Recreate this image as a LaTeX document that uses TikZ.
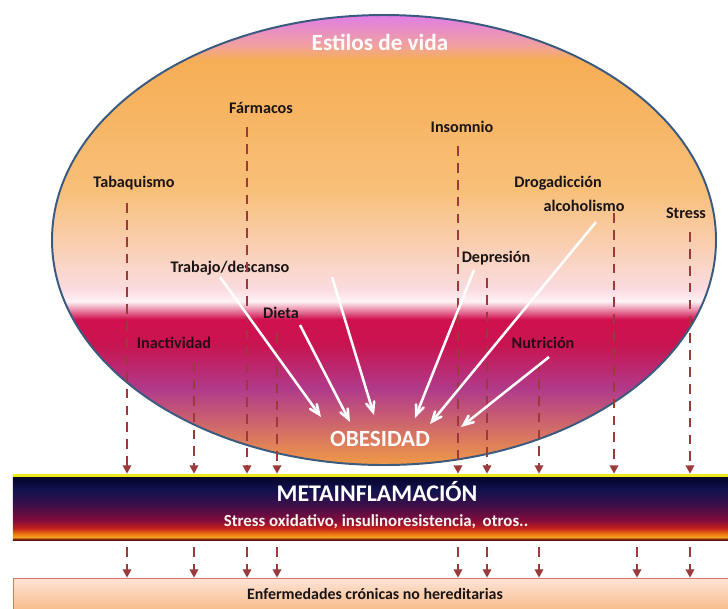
\documentclass[tikz,border=0pt]{standalone}
\usepackage{fontspec}
\setmainfont{Carlito}
\usetikzlibrary{arrows, arrows.meta, positioning}

\definecolor{dashred}{HTML}{9A3A3A}
\definecolor{labeltext}{HTML}{1A1414}
\definecolor{darklabel}{HTML}{2A0A18}
\definecolor{ellborder}{HTML}{3A5A80}
\definecolor{enftop}{HTML}{FDE4D8}
\definecolor{enfbot}{HTML}{F7B47A}
\definecolor{enfborder}{HTML}{E07060}
% ellipse colours, bottom to top
\definecolor{va}{HTML}{F09A48}
\definecolor{vb}{HTML}{B03A8A}
\definecolor{vc}{HTML}{C81450}
\definecolor{vd}{HTML}{D0104E}
\definecolor{ve}{HTML}{FFF2F5}
\definecolor{vf}{HTML}{FADCE0}
\definecolor{vg}{HTML}{F8BF78}
\definecolor{vh}{HTML}{F6AE55}
\definecolor{vi}{HTML}{F0A0A0}
\definecolor{vj}{HTML}{E07EE6}
% bar colours, bottom to top
\definecolor{ma}{HTML}{601010}
\definecolor{mb}{HTML}{F4A020}
\definecolor{mc}{HTML}{F07812}
\definecolor{md}{HTML}{C0201C}
\definecolor{me}{HTML}{820C3C}
\definecolor{mf}{HTML}{3D0F4A}
\definecolor{mg}{HTML}{121250}
\definecolor{mh}{HTML}{05052A}
\definecolor{mi}{HTML}{EEE81A}

\pgfdeclareverticalshading{vida}{100bp}{color(0bp)=(va); color(25bp)=(va);
  color(33.5bp)=(vb); color(38.41bp)=(vc); color(41.19bp)=(vd); color(43.18bp)=(ve);
  color(44.51bp)=(vf); color(55.6bp)=(vg); color(70.01bp)=(vh); color(71.67bp)=(vi);
  color(75bp)=(vj); color(100bp)=(vj)}
\pgfdeclareverticalshading{metashade}{100bp}{color(0bp)=(ma); color(25.38bp)=(ma);
  color(27.27bp)=(mb); color(29.55bp)=(mc); color(34.09bp)=(md); color(40.15bp)=(me);
  color(51.52bp)=(mf); color(62.88bp)=(mg); color(72.73bp)=(mh); color(73.48bp)=(mi);
  color(75bp)=(mi); color(100bp)=(mi)}

\begin{document}
\begin{tikzpicture}[x=0.025cm,y=-0.025cm,>={Triangle[width=6pt,length=6pt]},font=\bfseries\fontsize{11.5}{13}\selectfont]
	\tikzset{lbl/.style={text=labeltext, inner sep=1pt},
		dashline/.style={->, dashred, line width=1.6pt, dash pattern=on 7pt off 5pt},
		whitearrow/.style={-angle 45, white, line width=1.8pt},
		bar/.style={minimum width=18.2cm, inner sep=0pt}}
	\useasboundingbox (0,0) rectangle (728,608);
	\shadedraw[shading=vida, draw=ellborder, line width=1.4pt] (384,240) ellipse (332 and 225);

	\node[bar, shading=metashade, minimum height=1.65cm] (meta) at (377,507) {};
	\node[bar, top color=enftop, bottom color=enfbot, draw=enfborder, minimum height=0.95cm] (enf) at (377,597) {};

	\node[text=white!94!pink, font=\bfseries\fontsize{16.5}{18}\selectfont] (vida) at (380,42) {Estilos de vida};
	\node[text=white!94!pink, font=\bfseries\fontsize{16.5}{18}\selectfont] (obe) at (380,439) {OBESIDAD};
	\node[text=white, font=\bfseries\fontsize{17}{19}\selectfont] (metatit) at (377,492) {METAINFLAMACIÓN};
	\node[text=white!92!orange, font=\bfseries\fontsize{12}{14}\selectfont] (metasub) at (376,522) {Stress oxidativo, insulinoresistencia,\, otros..};
	\node[lbl, font=\bfseries\fontsize{11.3}{13}\selectfont] (enftxt) at (375,594) {Enfermedades crónicas no hereditarias};

	\node[lbl] (far) at (261,108) {Fármacos};
	\node[lbl] (ins) at (462,127) {Insomnio};
	\node[lbl] (tab) at (134,183) {Tabaquismo};
	\node[lbl] (dro) at (558,183) {Drogadicción};
	\node[lbl] (alc) at (584,206) {alcoholismo};
	\node[lbl] (str) at (686,213) {Stress};
	\node[lbl] (dep) at (496,258) {Depresión};
	\node[lbl] (tra) at (230,268) {Trabajo/descanso};
	\node[lbl] (die) at (281,313) {Dieta};
	\node[lbl, text=darklabel] (ina) at (174,343) {Inactividad};
	\node[lbl, text=darklabel] (nut) at (543,343) {Nutrición};

	% dashed arrows down to the bar
	\coordinate (dtab) at (127,203);
	\coordinate (dina) at (194,362);
	\coordinate (dfar) at (247,127);
	\coordinate (ddie) at (277,333);
	\coordinate (dins) at (458,146);
	\coordinate (ddep) at (487,278);
	\coordinate (dnut) at (539,362);
	\coordinate (dalc) at (614,213);
	\coordinate (dstr) at (690,232);
	\coordinate (dlow) at (637,545);
	\foreach \c in {dtab,dina,dfar,ddie,dins,ddep,dnut,dalc,dstr}
		\draw[dashline] (\c) -- (\c |- meta.north);
	\foreach \c in {dtab,dina,dfar,ddie,dins,ddep,dnut,dlow,dstr}
		\draw[dashline, shorten <=5pt] (meta.south -| \c) -- (enf.north -| \c);

	% white arrows to OBESIDAD
	\coordinate (wa1) at (220,277); \coordinate (wb1) at (321,417);
	\coordinate (wa2) at (332,277); \coordinate (wb2) at (374,415);
	\coordinate (wa3) at (300,325); \coordinate (wb3) at (350,422);
	\coordinate (wa4) at (474,270); \coordinate (wb4) at (415,418);
	\coordinate (wa5) at (596,222); \coordinate (wb5) at (430,424);
	\coordinate (wa6) at (549,357); \coordinate (wb6) at (461,427);
	\foreach \i in {1,...,6}
		\draw[whitearrow] (wa\i) -- (wb\i);
\end{tikzpicture}
\end{document}
